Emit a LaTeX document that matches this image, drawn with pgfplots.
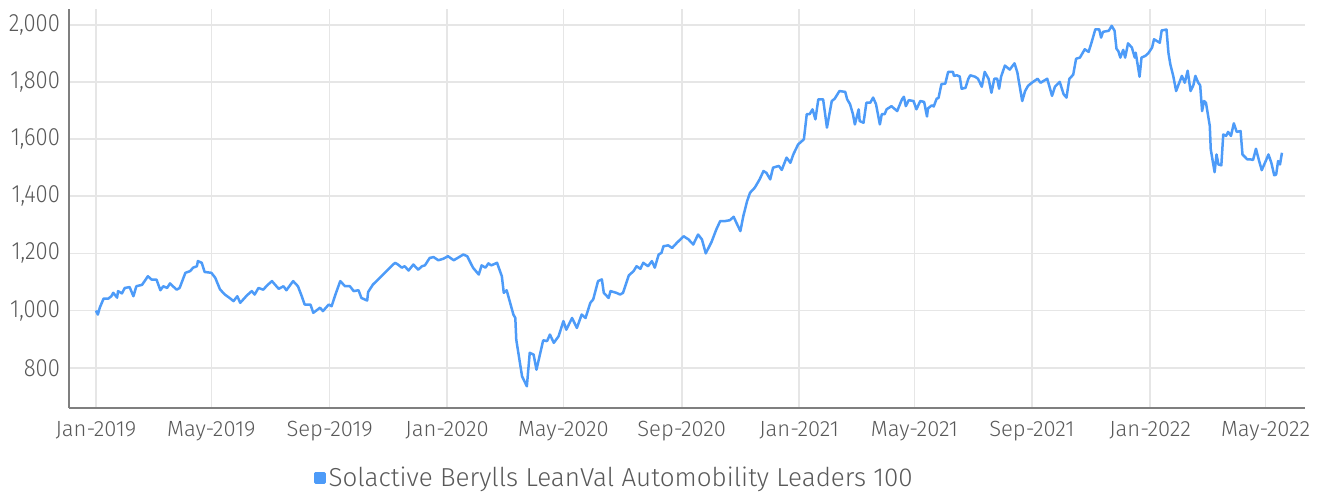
\documentclass[border=0pt]{standalone}
\usepackage{pgfplots}
\pgfplotsset{compat=1.18}
\usepackage{fontspec}
\setmainfont{Fira Sans Light}
\newfontfamily\ytickfont{Fira Sans Light}[FakeStretch=0.88]
\definecolor{serieblue}{HTML}{4D9BF8}
\definecolor{gridgray}{HTML}{E6E6E6}
\definecolor{axisgray}{HTML}{7F7F7F}
\definecolor{textgray}{HTML}{595959}
\pgfplotstableread{
day value
0 1000
2 986
4 1010
8 1042
13 1042
16 1050
18 1062
22 1045
23 1068
27 1060
30 1079
35 1082
39 1050
42 1085
48 1090
54 1120
58 1108
63 1108
67 1071
70 1085
74 1079
77 1095
80 1085
84 1073
87 1079
93 1132
98 1138
101 1150
105 1155
106 1173
110 1167
113 1135
120 1132
124 1115
129 1074
134 1056
139 1044
143 1033
147 1050
150 1027
157 1053
162 1068
165 1056
169 1079
174 1073
178 1088
183 1103
190 1076
195 1085
198 1071
205 1103
210 1085
214 1050
217 1021
223 1021
226 992
233 1010
236 998
242 1021
245 1015
249 1056
254 1103
259 1085
264 1085
268 1068
273 1071
276 1044
282 1035
283 1065
288 1091
295 1114
302 1138
308 1158
311 1167
314 1161
318 1150
321 1155
325 1140
330 1161
335 1143
339 1155
342 1158
347 1184
351 1187
356 1176
361 1181
366 1190
372 1176
382 1196
386 1190
392 1150
398 1126
401 1158
405 1150
408 1165
411 1158
417 1167
422 1120
424 1062
427 1071
434 986
436 974
437 898
443 770
448 735
451 852
455 846
458 793
462 852
465 896
469 893
472 916
476 887
481 910
486 963
489 933
495 974
500 939
505 986
509 974
514 1027
517 1039
522 1103
526 1109
528 1062
533 1044
535 1068
541 1062
545 1056
548 1062
554 1123
559 1138
562 1155
566 1146
569 1167
574 1155
578 1173
581 1150
585 1196
588 1202
590 1225
595 1228
599 1219
604 1237
611 1260
616 1249
621 1231
626 1266
630 1249
634 1200
640 1240
645 1284
649 1313
654 1313
659 1316
663 1328
666 1306
670 1278
673 1330
677 1383
680 1412
685 1430
690 1459
694 1488
697 1482
701 1459
704 1500
710 1506
713 1492
718 1535
722 1517
725 1546
730 1581
736 1599
739 1687
742 1687
745 1704
748 1669
751 1739
756 1739
760 1640
765 1733
768 1741
773 1768
779 1765
781 1739
784 1722
787 1687
789 1651
793 1704
794 1663
798 1657
801 1727
805 1727
808 1745
811 1722
815 1651
817 1687
820 1687
822 1704
827 1715
833 1698
838 1739
840 1748
842 1715
845 1736
850 1733
853 1704
857 1733
861 1730
864 1679
865 1707
869 1718
871 1714
874 1741
876 1744
879 1792
883 1794
886 1835
891 1835
892 1821
895 1823
898 1819
900 1776
904 1779
907 1811
909 1823
914 1818
917 1811
921 1783
924 1835
928 1811
931 1762
934 1811
937 1811
939 1776
941 1818
945 1857
950 1843
955 1865
958 1832
960 1792
963 1733
966 1768
969 1786
973 1797
979 1811
982 1797
989 1811
994 1751
997 1783
1002 1800
1006 1757
1009 1745
1012 1811
1016 1825
1019 1881
1023 1885
1028 1914
1032 1905
1035 1937
1039 1984
1043 1984
1045 1955
1047 1975
1053 1979
1056 1996
1059 1979
1061 1916
1063 1907
1065 1885
1068 1912
1070 1885
1073 1935
1077 1920
1080 1885
1081 1902
1085 1818
1087 1885
1091 1891
1094 1900
1098 1920
1100 1949
1106 1937
1108 1980
1113 1983
1115 1902
1117 1861
1120 1821
1123 1768
1125 1786
1129 1821
1132 1797
1135 1839
1138 1768
1141 1789
1143 1821
1146 1797
1148 1788
1150 1698
1152 1733
1154 1727
1158 1646
1159 1564
1163 1484
1165 1546
1167 1511
1170 1508
1172 1616
1175 1611
1177 1625
1180 1611
1183 1655
1186 1625
1190 1628
1192 1546
1197 1529
1200 1529
1203 1527
1206 1566
1209 1527
1212 1491
1216 1522
1219 1546
1222 1517
1225 1473
1227 1476
1229 1523
1231 1511
1233 1552
}\seriesdata
\begin{document}
\begin{tikzpicture}
\path[use as bounding box] (-34.5pt,-42.5pt) rectangle (628pt,204pt);
\begin{axis}[
  at={(0pt,0pt)}, anchor=south west,
  scale only axis, width=618pt, height=199.5pt,
  xmin=-28, xmax=1257, ymin=659, ymax=2055,
  axis x line*=bottom, axis y line*=left,
  axis line style={draw=axisgray, line width=1pt, -},
  xtick={0,120,243,365,486,609,731,851,973,1096,1216},
  xticklabels={Jan-2019,May-2019,Sep-2019,Jan-2020,May-2020,Sep-2020,Jan-2021,May-2021,Sep-2021,Jan-2022,May-2022},
  ytick={800,1000,1200,1400,1600,1800,2000},
  major tick length=0pt,
  grid=major, grid style={draw=gridgray, line width=0.8pt},
  /pgf/number format/assume math mode=true,
  /pgf/number format/1000 sep={,},
  xticklabel style={font=\fontsize{11}{13}\selectfont, text=textgray, yshift=-3pt},
  yticklabel style={font=\ytickfont\fontsize{12.5}{14}\selectfont, text=textgray, xshift=-1pt},
  legend style={draw=none, fill=none, at={(0.4417,-0.1754)}, anchor=center,
    font=\fontsize{13}{15}\selectfont, text=textgray, inner sep=0pt,
    nodes={inner xsep=1.5pt, inner ysep=0pt}},
  legend image code/.code={\fill[serieblue] (0pt,-2.25pt) rectangle (4.5pt,2.25pt);},
]
\addplot[serieblue, line width=1.25pt, line join=round] table[x=day, y=value] {\seriesdata};
\addlegendentry{Solactive Berylls LeanVal Automobility Leaders 100}
\end{axis}
\end{tikzpicture}
\end{document}
